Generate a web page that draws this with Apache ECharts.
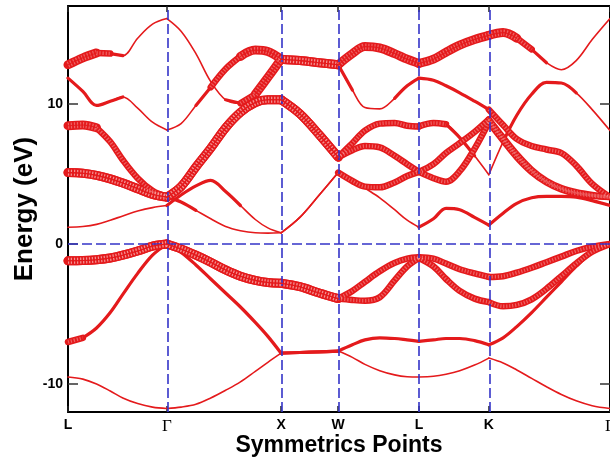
<!DOCTYPE html>
<html>
<head>
<meta charset="utf-8">
<script src="https://cdn.jsdelivr.net/npm/echarts@6/dist/echarts.min.js"></script>
<style>
  html, body { margin: 0; padding: 0; background: #fff; }
  #chart { width: 610px; height: 459px; }
</style>
</head>
<body>
<div id="chart"></div>
<script>
// High-symmetry points along the path L-Γ-X-W-L-K-Γ (path length in 2π/a units)
const kSym = [0, 0.866, 1.866, 2.366, 3.073, 3.685, 4.746];
const symLabels = ['L', 'Γ', 'X', 'W', 'L', 'K', 'Γ'];
const symIndex = [0, 7, 15, 18, 24, 29, 37];

// k sampling along the path
const kGrid = [
  0, 0.13, 0.25, 0.37, 0.48, 0.61, 0.74, 0.866,
  0.99, 1.12, 1.25, 1.38, 1.51, 1.64, 1.75, 1.866,
  2.03, 2.2, 2.366,
  2.49, 2.6, 2.73, 2.86, 2.97, 3.073,
  3.2, 3.31, 3.43, 3.56, 3.685,
  3.81, 3.93, 4.06, 4.19, 4.32, 4.45, 4.59, 4.746
];

// Band energies (eV) at each k of kGrid
const band1 = [-9.5, -9.65, -10.0, -10.5, -11.0, -11.4, -11.65, -11.75,
  -11.65, -11.45, -11.0, -10.45, -9.85, -9.1, -8.45, -7.8,
  -7.75, -7.7, -7.65,
  -8.1, -8.6, -9.05, -9.35, -9.48, -9.5,
  -9.45, -9.3, -9.05, -8.65, -8.15,
  -8.5, -9.0, -9.6, -10.2, -10.75, -11.2, -11.55, -11.75];
const band2 = [-7.0, -6.7, -6.0, -4.9, -3.6, -2.1, -0.8, 0,
  -0.6, -1.5, -2.5, -3.5, -4.5, -5.6, -6.6, -7.8,
  -7.75, -7.7, -7.65,
  -7.2, -6.85, -6.7, -6.75, -6.85, -6.95,
  -6.85, -6.75, -6.75, -6.9, -7.2,
  -6.7, -5.9, -4.9, -3.8, -2.7, -1.6, -0.6, 0];
const band3 = [-1.2, -1.18, -1.12, -1.0, -0.8, -0.5, -0.15, 0,
  -0.35, -0.8, -1.3, -1.85, -2.3, -2.6, -2.75, -2.8,
  -3.05, -3.5, -3.9,
  -4.0, -4.05, -3.8, -2.6, -1.6, -1.0,
  -1.6, -2.5, -3.35, -3.9, -4.15,
  -4.45, -4.35, -3.95, -3.2, -2.3, -1.4, -0.55, 0];
const band4 = [-1.2, -1.18, -1.12, -1.0, -0.8, -0.5, -0.15, 0,
  -0.35, -0.8, -1.3, -1.85, -2.3, -2.6, -2.75, -2.8,
  -3.05, -3.5, -3.9,
  -3.35, -2.7, -1.95, -1.35, -1.05, -0.95,
  -1.05, -1.4, -1.8, -2.1, -2.35,
  -2.3, -2.05, -1.7, -1.3, -0.9, -0.5, -0.2, 0];
const band5 = [1.2, 1.25, 1.4, 1.7, 2.0, 2.35, 2.6, 2.75,
  3.5, 4.15, 4.55, 3.75, 2.75, 1.75, 1.15, 0.8,
  1.9, 3.5, 5.1,
  4.6, 4.0, 3.3, 2.45, 1.7, 1.2,
  1.8, 2.55, 2.45, 1.9, 1.35,
  2.2, 2.9, 3.3, 3.4, 3.4, 3.35, 3.1, 2.75];
const band6 = [5.1, 5.05, 4.9, 4.65, 4.35, 3.95, 3.55, 3.35,
  3.0, 2.4, 1.8, 1.25, 0.95, 0.8, 0.78, 0.8,
  1.9, 3.5, 5.1,
  4.5, 4.1, 4.05, 4.4, 4.85, 5.15,
  4.7, 4.45, 5.2, 6.8, 8.7,
  7.4, 6.2, 5.15, 4.4, 3.9, 3.6, 3.45, 3.35];
const band7 = [5.1, 5.05, 4.9, 4.65, 4.35, 3.95, 3.55, 3.35,
  4.1, 5.5, 6.85, 8.3, 9.4, 10.1, 10.3, 10.3,
  9.3, 7.8, 6.2,
  6.7, 7.0, 6.9, 6.3, 5.7, 5.15,
  5.7, 6.5, 7.2, 8.0, 8.9,
  7.6, 6.4, 5.3, 4.5, 4.0, 3.7, 3.5, 3.35];
const band8 = [8.45, 8.5, 8.3, 7.3, 6.0, 4.7, 3.8, 3.35,
  4.1, 5.5, 6.85, 8.3, 9.4, 10.1, 10.3, 10.3,
  9.3, 7.8, 6.2,
  7.2, 8.1, 8.6, 8.65, 8.45, 8.4,
  8.65, 8.55, 7.6, 6.3, 4.95,
  7.3, 9.2, 10.7, 11.55, 11.5, 10.8, 9.6, 8.1];
const band9 = [11.85, 10.9, 9.9, 10.2, 10.5, 9.7, 8.7, 8.15,
  8.6, 9.9, 11.2, 12.5, 13.4, 13.85, 13.75, 13.2,
  13.1, 12.95, 12.8,
  11.0, 9.75, 9.65, 10.4, 11.3, 11.85,
  11.7, 11.3, 10.8, 10.2, 9.6,
  8.5, 7.5, 7.0, 6.75, 6.5, 5.6, 4.3, 3.35];
const band10 = [12.8, 13.3, 13.65, 13.6, 13.45, 14.7, 15.7, 16.1,
  15.2, 13.6, 11.6, 10.3, 10.05, 10.7, 11.9, 13.2,
  13.1, 12.95, 12.8,
  13.6, 14.1, 14.0, 13.6, 13.2, 12.9,
  13.2, 13.7, 14.2, 14.6, 14.9,
  15.1, 14.7, 13.9, 12.95, 12.45, 13.1, 14.6, 16.1];

// Projected weight class for each k interval (0 = plain line ... 3 = strongest)
const weight1 = [0,0,0,0,0,0,0, 0,0,0,0,0,0,0,0, 1,1,1, 0,0,0,0,0,0, 0,0,0,0,0, 0,0,0,0,0,0,0,0];
const weight2 = [2,1,1,1,1,1,1, 1,1,1,1,1,1,1,1, 1,1,1, 1,1,1,1,1,1, 1,1,1,1,1, 1,1,1,1,1,1,1,1];
const weight3 = [3,3,3,3,3,3,3, 3,3,3,3,3,3,3,3, 3,3,3, 2,2,2,2,2,2, 2,2,2,2,2, 2,2,2,2,2,2,2,2];
const weight4 = [3,3,3,3,3,3,3, 3,3,3,3,3,3,3,3, 3,3,3, 2,2,2,2,2,2, 2,2,2,2,2, 2,2,2,2,2,2,2,2];
const weight5 = [0,0,0,0,0,0,0, 1,1,1,1,1,0,0,0, 0,0,0, 0,0,0,0,0,0, 1,1,1,1,1, 1,1,1,1,1,1,1,1];
const weight6 = [3,3,3,3,3,3,3, 1,1,0,0,0,0,0,0, 0,0,0, 2,2,2,2,2,2, 2,2,2,2,2, 2,2,2,2,2,2,2,2];
const weight7 = [3,3,3,3,3,3,3, 3,3,3,3,3,3,3,3, 3,3,3, 2,2,2,2,2,2, 2,2,2,2,2, 2,2,2,2,2,2,2,2];
const weight8 = [3,3,2,2,2,2,2, 3,3,3,3,3,3,3,3, 3,3,3, 2,2,2,2,2,2, 2,2,1,1,0, 0,1,1,1,1,1,0,0];
const weight9 = [1,1,1,1,0,0,0, 0,0,1,2,2,3,3,3, 3,3,3, 1,0,0,0,1,1, 1,1,1,1,1, 2,2,2,2,2,2,2,2];
const weight10 = [3,3,2,1,0,0,0, 0,0,0,0,1,2,3,3, 3,3,3, 3,3,3,3,3,3, 3,3,3,3,3, 3,3,2,1,0,0,0,0];

const energyTicks = [-10, 0, 10];

const bands = [band1, band2, band3, band4, band5, band6, band7, band8, band9, band10];
const weights = [weight1, weight2, weight3, weight4, weight5, weight6, weight7, weight8, weight9, weight10];

const RED = '#e41a1c';
const BLUE = '#3434c8';
const LINE_W = [1.6, 3.2, 6.5, 9];

function bandLine(points, width, color, dash, z) {
  return {
    type: 'line',
    data: points,
    smooth: 0.35,
    symbol: 'none',
    silent: true,
    animation: false,
    z: z,
    lineStyle: {
      width: width,
      color: color,
      type: dash || 'solid',
      cap: dash ? 'butt' : 'round',
      join: 'round'
    }
  };
}

const base = [], fat = [], hatch = [];
bands.forEach((E, b) => {
  const w = weights[b];
  for (let s = 0; s < symIndex.length - 1; s++) {
    const i0 = symIndex[s], i1 = symIndex[s + 1];
    const seg = [];
    for (let i = i0; i <= i1; i++) seg.push([kGrid[i], E[i]]);
    base.push(bandLine(seg, LINE_W[0], RED, null, 2));
    // runs of equal weight inside this segment
    let r = i0;
    while (r < i1) {
      const c = w[r];
      let e = r;
      while (e < i1 && w[e] === c) e++;
      if (c > 0) {
        const pts = [];
        for (let i = r; i <= e; i++) pts.push([kGrid[i], E[i]]);
        fat.push(bandLine(pts, LINE_W[c], RED, null, 3));
        if (c >= 2) {
          hatch.push(bandLine(pts, LINE_W[c] - 3, 'rgba(255,225,225,0.36)', [1.2, 1.8], 4));
          if (c === 3) hatch.push(bandLine(pts, 1.1, 'rgba(228,26,28,0.9)', null, 5));
        }
      }
      r = e;
    }
  }
});

// Dashed guides at the interior symmetry points and at the Fermi level
const guides = {
  type: 'line',
  data: [],
  silent: true,
  animation: false,
  z: 10,
  markLine: {
    silent: true,
    animation: false,
    symbol: ['none', 'none'],
    label: { show: false },
    lineStyle: { color: BLUE, type: [10, 4], width: 1.6 },
    data: kSym.slice(1, -1).map(k => ({ xAxis: k })).concat([{ yAxis: 0 }])
  }
};

function symFormatter(v) {
  const i = kSym.findIndex(k => Math.abs(k - v) < 1e-6);
  if (i < 0) return '';
  return symLabels[i] === 'Γ' ? '{g|Γ}' : '{b|' + symLabels[i] + '}';
}

const frame = { show: true, onZero: false, lineStyle: { color: '#000', width: 2 } };

const option = {
  backgroundColor: '#fff',
  animation: false,
  grid: { left: 68, right: 0, top: 6, bottom: 47, containLabel: false, outerBoundsMode: 'none' },
  xAxis: [
    {
      type: 'value', min: 0, max: kSym[kSym.length - 1],
      axisLine: frame,
      splitLine: { show: false },
      axisTick: { show: true, inside: true, length: 6, customValues: kSym, lineStyle: { color: '#222', width: 1.5 } },
      axisLabel: {
        customValues: kSym, margin: 6, formatter: symFormatter,
        rich: {
          b: { fontFamily: 'Liberation Sans, Arial, sans-serif', fontWeight: 'bold', fontSize: 14, color: '#000' },
          g: { fontFamily: 'Liberation Serif, Times New Roman, serif', fontSize: 17, color: '#000' }
        }
      },
      name: 'Symmetrics Points',
      nameLocation: 'middle',
      nameGap: 22,
      nameMoveOverlap: false,
      nameTextStyle: { fontFamily: 'Liberation Sans, Arial, sans-serif', fontWeight: 'bold', fontSize: 23, color: '#000' }
    },
    {
      type: 'value', position: 'top', min: 0, max: kSym[kSym.length - 1],
      axisLine: frame, splitLine: { show: false },
      axisTick: { show: true, inside: true, length: 6, customValues: kSym, lineStyle: { color: '#222', width: 1.5 } },
      axisLabel: { show: false }
    }
  ],
  yAxis: [
    {
      type: 'value', min: -12, max: 17,
      axisLine: frame,
      splitLine: { show: false },
      axisTick: { show: true, inside: true, length: 10, customValues: energyTicks, lineStyle: { color: '#333', width: 1.5 } },
      axisLabel: {
        customValues: energyTicks, margin: 5,
        fontFamily: 'Liberation Sans, Arial, sans-serif', fontWeight: 'bold', fontSize: 14, color: '#000'
      },
      name: 'Energy (eV)',
      nameLocation: 'middle',
      nameGap: 30,
      nameMoveOverlap: false,
      nameTextStyle: { fontFamily: 'Liberation Sans, Arial, sans-serif', fontWeight: 'bold', fontSize: 26, color: '#000' }
    },
    {
      type: 'value', position: 'right', min: -12, max: 17,
      axisLine: frame, splitLine: { show: false },
      axisTick: { show: true, inside: true, length: 10, customValues: energyTicks, lineStyle: { color: '#333', width: 1.5 } },
      axisLabel: { show: false }
    }
  ],
  series: base.concat(fat, hatch, [guides])
};

const chart = echarts.init(document.getElementById('chart'), null, { renderer: 'canvas' });
chart.setOption(option);
</script>
</body>
</html>
